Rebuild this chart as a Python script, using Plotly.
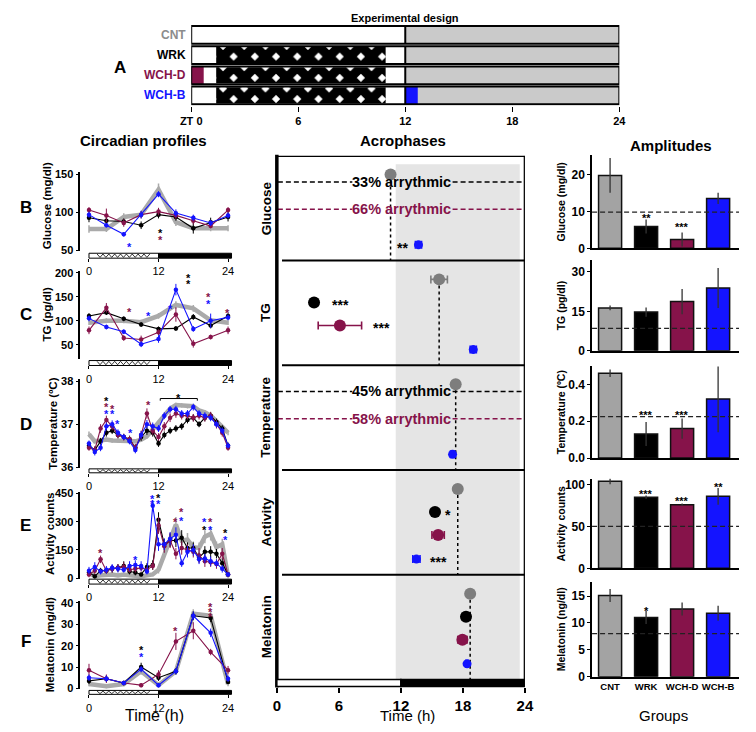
import plotly.graph_objects as go

# The page body has an 8px default margin: the figure is sized so it fits the 756x732 window,
# and all layout positions below are expressed in window pixels.
OFF = 8
FW, FH = 756 - 2 * OFF, 732 - 2 * OFF
def px(x): return (x - OFF) / FW
def py(y): return 1 - (y - OFF) / FH

FONT = "Arial, 'Liberation Sans', Helvetica, sans-serif"
GROUPS = ["CNT", "WRK", "WCH-D", "WCH-B"]
C_CNT_LINE = "#aaaaaa"
C_CNT_MARK = "#7d7d7d"
C_CNT_BAR = "#a3a3a3"
C_CNT_TXT = "#8c8c8c"
C_WRK = "#000000"
C_WCHD = "#86134a"
C_WCHB = "#1414ff"

# ---------------- data ----------------
# Experimental design (ZT hours)
work_start, work_end = 1.4, 10.9
wchd_food = [0.0, 0.7]
wchb_food = [12.0, 12.7]

t3 = [0, 3, 6, 9, 12, 15, 18, 21, 24]
t1 = list(range(25))

# Glucose (mg/dl)
glu_cnt = [78, 78, 94, 97, 130, 87, 79, 79, 79]
glu_wrk = [93, 89, 88, 83, 97, 94, 79, 87, 94]
glu_wchd = [103, 96, 86, 97, 101, 96, 89, 82, 103]
glu_wchb = [97, 83, 71, 97, 124, 99, 93, 86, 96]
glu_cnt_e = [5, 4, 5, 4, 8, 5, 4, 4, 4]
glu_wrk_e = [6, 8, 4, 5, 5, 5, 7, 6, 6]
glu_wchd_e = [4, 9, 5, 5, 5, 5, 5, 3, 4]
glu_wchb_e = [4, 3, 3, 5, 4, 5, 4, 4, 4]

# TG (pg/dl)
tg_cnt = [96, 100, 100, 97, 110, 133, 126, 101, 96]
tg_wrk = [110, 117, 104, 92, 83, 84, 108, 90, 110]
tg_wchd = [80, 127, 64, 61, 76, 113, 52, 66, 80]
tg_wchb = [105, 87, 77, 51, 62, 165, 83, 100, 107]
tg_cnt_e = [5, 5, 5, 5, 6, 8, 7, 5, 5]
tg_wrk_e = [6, 5, 5, 5, 5, 5, 6, 6, 6]
tg_wchd_e = [8, 10, 6, 8, 6, 15, 8, 5, 8]
tg_wchb_e = [6, 5, 5, 6, 8, 12, 6, 15, 6]

# Temperature (ºC), hourly
temp_cnt = [36.77, 36.6, 36.62, 36.64, 36.62, 36.62, 36.62, 36.62, 36.6, 36.64, 36.72, 36.88, 37.04,
            37.2, 37.36, 37.45, 37.44, 37.42, 37.42, 37.32, 37.28, 37.2, 37.08, 36.94, 36.8]
temp_wrk = [36.5, 36.4, 36.6, 36.8, 36.85, 36.75, 36.7, 36.65, 36.45, 36.7, 36.85, 36.8, 36.55,
            36.75, 36.85, 36.9, 36.95, 37.1, 37.15, 37.0, 37.15, 37.2, 37.05, 36.9, 36.5]
temp_wchd = [36.45, 36.4, 36.9, 37.1, 36.95, 36.75, 36.7, 36.65, 36.45, 36.75, 37.25, 36.85, 36.7,
             36.95, 37.15, 37.25, 37.2, 37.2, 37.15, 37.2, 37.15, 37.2, 37.0, 36.8, 36.45]
temp_wchb = [36.55, 36.35, 36.45, 36.95, 37.0, 36.8, 36.7, 36.6, 36.4, 36.75, 37.0, 36.95, 36.9,
             37.2, 37.35, 37.35, 37.25, 37.25, 37.4, 37.25, 37.2, 37.15, 37.0, 36.85, 36.5]
temp_cnt_e = [0.06, 0.05, 0.05, 0.05, 0.05, 0.05, 0.05, 0.05, 0.05, 0.05, 0.06, 0.06, 0.06,
              0.06, 0.05, 0.05, 0.05, 0.05, 0.05, 0.05, 0.05, 0.05, 0.06, 0.06, 0.06]
temp_wrk_e = [0.07, 0.08, 0.08, 0.09, 0.08, 0.07, 0.07, 0.08, 0.08, 0.09, 0.1, 0.09, 0.08,
              0.08, 0.08, 0.08, 0.08, 0.08, 0.08, 0.07, 0.08, 0.08, 0.08, 0.08, 0.07]
temp_wchd_e = [0.07, 0.08, 0.1, 0.1, 0.09, 0.08, 0.08, 0.08, 0.08, 0.1, 0.12, 0.1, 0.09,
               0.1, 0.1, 0.1, 0.09, 0.09, 0.09, 0.09, 0.09, 0.09, 0.1, 0.09, 0.07]
temp_wchb_e = [0.07, 0.08, 0.08, 0.09, 0.09, 0.08, 0.07, 0.07, 0.08, 0.09, 0.1, 0.09, 0.08,
               0.08, 0.08, 0.08, 0.08, 0.08, 0.08, 0.08, 0.08, 0.08, 0.08, 0.08, 0.07]

# Activity counts, hourly
act_cnt = [30, 10, 15, 20, 20, 15, 20, 15, 10, 10, 15, 20, 45, 130, 205, 285, 200, 205, 165, 160,
           220, 235, 165, 180, 10]
act_wrk = [30, 10, 40, 40, 50, 55, 65, 35, 30, 20, 60, 70, 310, 180, 200, 200, 215, 160, 160, 110,
           140, 140, 130, 80, 20]
act_wchd = [20, 40, 100, 40, 50, 55, 60, 45, 50, 55, 45, 65, 280, 170, 200, 130, 160, 150, 140, 120,
            90, 85, 75, 130, 20]
act_wchb = [40, 60, 35, 45, 55, 50, 45, 65, 70, 65, 35, 385, 180, 180, 210, 230, 80, 140, 150, 100,
            105, 90, 80, 50, 20]
act_cnt_e = [10, 8, 8, 8, 8, 8, 8, 8, 8, 8, 8, 10, 20, 30, 35, 40, 35, 35, 30, 30, 35, 35, 30, 30, 10]
act_wrk_e = [15, 10, 15, 15, 20, 20, 25, 15, 15, 10, 20, 25, 40, 30, 35, 35, 40, 30, 30, 25, 30, 30, 25, 25, 10]
act_wchd_e = [15, 20, 20, 15, 20, 20, 25, 15, 20, 20, 15, 20, 45, 35, 40, 30, 35, 30, 30, 40, 30, 25, 25, 30, 10]
act_wchb_e = [20, 25, 15, 20, 20, 20, 15, 25, 25, 25, 15, 30, 35, 30, 35, 40, 20, 30, 30, 25, 25, 25, 20, 20, 10]

# Melatonin, every 3 h
mel_cnt = [2, 1, 2, 8, 1.5, 8, 35, 34, 2]
mel_wrk = [3.5, 4.5, 2.5, 10, 5, 8, 34, 33, 3]
mel_wchd = [8.5, 4.5, 2.5, 1.5, 6.5, 22, 27, 17, 8.5]
mel_wchb = [5, 4.5, 2.5, 9, 1.5, 8, 34, 26, 4.5]
mel_cnt_e = [1, 1, 1, 1.5, 1, 1.5, 2, 2, 1]
mel_wrk_e = [1.5, 1.5, 1, 2, 1.5, 1.5, 2, 2, 1]
mel_wchd_e = [3, 2, 1, 1, 2, 4, 4, 1.5, 2]
mel_wchb_e = [1.5, 1.5, 1, 1.5, 1, 1.5, 2, 2, 1.5]

# Significance stars (x, y, group)
stars_glu = [(7.0, 58, "WCH-B"), (12.3, 76.5, "WRK"), (12.3, 67, "WCH-D")]
stars_tg = [(17.2, 196, "WRK"), (17.2, 183, "WRK"), (7.0, 125, "WCH-D"), (10.3, 116, "WCH-B"),
            (14.0, 131, "WCH-B"), (20.7, 155, "WCH-D"), (20.7, 141, "WCH-B"), (23.9, 123, "WCH-D")]
stars_temp = [(3.0, 37.62, "WRK"), (3.0, 37.47, "WCH-D"), (3.0, 37.31, "WCH-B"), (4.1, 37.43, "WCH-D"),
              (4.1, 37.3, "WCH-B"), (5.0, 37.07, "WCH-B"), (7.2, 36.86, "WCH-B"), (10.3, 37.52, "WCH-D"),
              (15.4, 37.69, "WRK")]
stars_act = [(2, 152, "WCH-D"), (8, 111, "WCH-B"), (11, 434, "WCH-B"), (11, 408, "WCH-B"),
             (12, 443, "WRK"), (12, 408, "WCH-B"), (15, 312, "WCH-D"), (16, 365, "WCH-D"),
             (16, 321, "WCH-B"), (20, 312, "WCH-B"), (20, 274, "WRK"), (21, 312, "WCH-D"),
             (21, 274, "WCH-B"), (23.5, 256, "WRK"), (23.5, 220, "WCH-B")]
stars_mel = [(9, 19.5, "WRK"), (9, 16.1, "WCH-B"), (15, 28.4, "WCH-D"), (21, 39.4, "WCH-D"),
             (21, 37.2, "WCH-D"), (21, 34.8, "WCH-D")]
temp_bracket = [12.3, 18.7, 37.6]

# Acrophases (h)
acro_vars = ["Glucose", "TG", "Temperature", "Activity", "Melatonin"]
acro_cnt = [11.0, 15.7, 17.3, 17.5, 18.7]
acro_cnt_e = [0.3, 0.8, 0.1, 0.1, 0.1]
acro_wrk = [None, 3.6, None, 15.3, 18.3]
acro_wrk_e = [0, 0.15, 0, 0.3, 0.35]
acro_wchd = [None, 6.1, None, 15.6, 17.95]
acro_wchd_e = [0, 2.1, 0, 0.6, 0.45]
acro_wchb = [13.7, 19.0, 17.0, 13.5, 18.4]
acro_wchb_e = [0.3, 0.3, 0.2, 0.35, 0.1]
arr_wrk = ["33% arrythmic", None, "45% arrythmic", None, None]
arr_wchd = ["66% arrythmic", None, "58% arrythmic", None, None]
acro_stars = [(12.15, 0, "WCH-B", "**"), (6.15, 1, "WRK", "***"), (10.1, 1, "WCH-D", "***"),
              (16.6, 3, "WRK", "*"), (15.6, 3, "WCH-B", "***")]

# Amplitudes
amp_glu = [19.7, 5.9, 2.4, 13.5]
amp_glu_e = [4.7, 1.9, 1.9, 1.5]
amp_tg = [16.3, 14.7, 18.7, 23.9]
amp_tg_e = [0.9, 1.8, 4.8, 7.6]
amp_temp = [0.46, 0.13, 0.16, 0.32]
amp_temp_e = [0.02, 0.065, 0.055, 0.18]
amp_act = [104, 85, 76, 86]
amp_act_e = [3.5, 2, 1.5, 10]
amp_mel = [15.1, 11.0, 12.6, 11.8]
amp_mel_e = [1.2, 1.2, 1.2, 1.4]
amp_thr = [9.8, 8.5, 0.225, 50, 8.0]
amp_stars = [[(1, 8.9, "**"), (2, 6.7, "***")], [], [(1, 0.25, "***"), (2, 0.25, "***")],
             [(1, 91.8, "***"), (2, 83.5, "***"), (3, 101, "**")], [(1, 12.8, "*")]]

# ---------------- figure ----------------
GC = {"CNT": C_CNT_MARK, "WRK": C_WRK, "WCH-D": C_WCHD, "WCH-B": C_WCHB}
fig = go.Figure()
ann, shapes = [], []
L = dict(width=FW, height=FH, margin=dict(l=0, r=0, t=0, b=0, pad=0), paper_bgcolor="white",
         plot_bgcolor="rgba(0,0,0,0)", showlegend=False, barmode="overlay", hovermode=False,
         font=dict(family=FONT, color="black", size=11))


def text(x, y, s, size=11, color="black", bold=True, angle=0, xanchor="center", yanchor="middle",
         xref="paper", yref="paper", yshift=0):
    ann.append(dict(x=x, y=y, xref=xref, yref=yref, text=("<b>%s</b>" % s) if bold else s,
                    showarrow=False, textangle=angle, xanchor=xanchor, yanchor=yanchor, yshift=yshift,
                    font=dict(family=FONT, size=size, color=color)))


# ---- A: experimental design ----
row_top, row_bot = 21, 103
row_h = (row_bot - row_top) / 4
L["xaxis"] = dict(domain=[px(185), px(625)], range=[0, 24], anchor="y", showgrid=False, zeroline=False,
                  showline=False, tickvals=[0, 6, 12, 18, 24], ticktext=["ZT 0", "6", "12", "18", "24"],
                  ticks="outside", ticklen=5, tickwidth=1.2, tickcolor="black",
                  tickfont=dict(size=11, weight="bold"))
L["yaxis"] = dict(domain=[py(row_bot), py(row_top)], range=[3.5, -0.5], visible=False, anchor="x")
for i, g in enumerate(GROUPS):
    shapes.append(dict(type="rect", xref="x", yref="y", x0=0, x1=12, y0=i - 0.44, y1=i + 0.44,
                       fillcolor="white", line=dict(width=0), layer="below"))
    shapes.append(dict(type="rect", xref="x", yref="y", x0=12, x1=24, y0=i - 0.44, y1=i + 0.44,
                       fillcolor="#cacaca", line=dict(width=0), layer="below"))
    if i > 0:
        fig.add_trace(go.Bar(x=[work_end - work_start], base=[work_start], y=[i], orientation="h",
                             width=0.8, xaxis="x", yaxis="y",
                             marker=dict(color="black", line=dict(width=0),
                                         pattern=dict(shape="x", fgcolor="black", bgcolor="white",
                                                      fgopacity=1, size=15, solidity=0.85))))
    shapes.append(dict(type="rect", xref="x", yref="y", x0=0, x1=24, y0=i - 0.44, y1=i + 0.44,
                       line=dict(color="black", width=2)))
    shapes.append(dict(type="line", xref="x", yref="y", x0=12, x1=12, y0=i - 0.44, y1=i + 0.44,
                       line=dict(color="black", width=2)))
    text(px(182), py(row_top + row_h * (i + 0.5)), g, size=12,
         color={"CNT": C_CNT_TXT, "WRK": C_WRK, "WCH-D": C_WCHD, "WCH-B": C_WCHB}[g], xanchor="right")
fig.add_trace(go.Bar(x=[wchd_food[1] - wchd_food[0]], base=[wchd_food[0]], y=[2], orientation="h",
                     width=0.86, xaxis="x", yaxis="y", marker=dict(color=C_WCHD, line=dict(width=0))))
fig.add_trace(go.Bar(x=[wchb_food[1] - wchb_food[0]], base=[wchb_food[0]], y=[3], orientation="h",
                     width=0.86, xaxis="x", yaxis="y", marker=dict(color=C_WCHB, line=dict(width=0))))
text(px(112), py(64), "A", size=17)
text(px(405), py(14), "Experimental design", size=11)

# Section titles
text(px(136), py(139), "Circadian profiles", size=15)
text(px(403), py(139), "Acrophases", size=15)
text(px(678), py(144), "Amplitudes", size=15)

# ---- B-F circadian profiles ----
panels = [
    dict(letter="B", title="Glucose (mg/dl)", t=t3, s=[glu_cnt, glu_wrk, glu_wchd, glu_wchb],
         e=[glu_cnt_e, glu_wrk_e, glu_wchd_e, glu_wchb_e], top=171, bot=251, rng=[48.7, 152.6],
         tick=[50, 100, 150], ld=(253, 258), ly=207, ty=205, tx=37, stars=stars_glu),
    dict(letter="C", title="TG (pg/dl)", t=t3, s=[tg_cnt, tg_wrk, tg_wchd, tg_wchb],
         e=[tg_cnt_e, tg_wrk_e, tg_wchd_e, tg_wchb_e], top=271, bot=360, rng=[21, 204],
         tick=[50, 100, 150, 200], ld=(362, 367), ly=315, ty=315, tx=37, stars=stars_tg),
    dict(letter="D", title="Temperature (ºC)", t=t1, s=[temp_cnt, temp_wrk, temp_wchd, temp_wchb],
         e=[temp_cnt_e, temp_wrk_e, temp_wchd_e, temp_wchb_e], top=381, bot=471, rng=[35.98, 38.05],
         tick=[36, 37, 38], ld=(472, 476), ly=427, ty=426, tx=42, stars=stars_temp),
    dict(letter="E", title="Activity counts", t=t1, s=[act_cnt, act_wrk, act_wchd, act_wchb],
         e=[act_cnt_e, act_wrk_e, act_wchd_e, act_wchb_e], top=495, bot=584, rng=[-5, 460],
         tick=[0, 150, 300, 450], ld=(584, 589), ly=530, ty=538, tx=40, stars=stars_act),
    dict(letter="F", title="Melatonin (mg/dl)", t=t3, s=[mel_cnt, mel_wrk, mel_wchd, mel_wchb],
         e=[mel_cnt_e, mel_wrk_e, mel_wchd_e, mel_wchb_e], top=606, bot=696, rng=[-0.5, 41],
         tick=[0, 10, 20, 30, 40], ld=(697, 701), ly=647, ty=651, tx=40, stars=stars_mel),
]


def zigzag(x0, x1, ytop, ybot, n):
    pts = []
    for j in range(n + 1):
        xx = x0 + (x1 - x0) * j / n
        yy = ytop if j % 2 == 0 else ybot
        pts.append("%.4f,%.5f" % (xx, yy))
    return "M " + " L ".join(pts)


for k, p in enumerate(panels):
    ai = k + 2
    xa, ya = "x%d" % ai, "y%d" % ai
    L["xaxis%d" % ai] = dict(domain=[px(71), px(230)], range=[-1.5, 25.2], anchor="free",
                             position=py(p["ld"][1]), showgrid=False, zeroline=False, showline=False,
                             tickvals=[0, 12, 24], ticks="outside", ticklen=3, tickwidth=1.2,
                             tickcolor="black", tickfont=dict(size=11))
    L["yaxis%d" % ai] = dict(domain=[py(p["bot"]), py(p["top"])], range=p["rng"], anchor=xa,
                             showgrid=False, zeroline=False, showline=True, linewidth=1.5,
                             linecolor="black", ticks="outside", ticklen=3, tickwidth=1.2,
                             tickcolor="black", tickvals=p["tick"], tickfont=dict(size=11, weight="bold"))
    # light/dark bar
    y0, y1 = py(p["ld"][1]), py(p["ld"][0])
    shapes.append(dict(type="rect", xref=xa, yref="paper", x0=0, x1=12, y0=y0, y1=y1,
                       fillcolor="white", line=dict(color="black", width=1)))
    shapes.append(dict(type="rect", xref=xa, yref="paper", x0=12, x1=24.6, y0=y0, y1=y1,
                       fillcolor="black", line=dict(color="black", width=1)))
    shapes.append(dict(type="path", xref=xa, yref="paper",
                       path=zigzag(work_start, work_end - 0.4, y1 - 0.8 / FH, y0 + 0.8 / FH, 18),
                       line=dict(color="black", width=0.8)))
    # lines
    for gi, g in enumerate(GROUPS):
        if g == "CNT":
            fig.add_trace(go.Scatter(x=p["t"], y=p["s"][gi], mode="lines", xaxis=xa, yaxis=ya,
                                     line=dict(color=C_CNT_LINE, width=4.5),
                                     error_y=dict(array=p["e"][gi], color=C_CNT_LINE, thickness=1.5,
                                                  width=0)))
        else:
            fig.add_trace(go.Scatter(x=p["t"], y=p["s"][gi], mode="lines+markers", xaxis=xa, yaxis=ya,
                                     line=dict(color=GC[g], width=1.1),
                                     marker=dict(color=GC[g], size=4.5),
                                     error_y=dict(array=p["e"][gi], color=GC[g], thickness=1, width=0)))
    for (sx, sy, sg) in p["stars"]:
        text(sx, sy, "*", size=11, color=GC[sg], xref=xa, yref=ya, yshift=-3)
    text(px(15), py(p["ly"]), p["letter"], size=17)
    text(px(p["tx"]), py(p["ty"]), p["title"], size=11.5, angle=-90)

# bracket in temperature panel
shapes.append(dict(type="path", xref="x4", yref="y4",
                   path="M %f,%f L %f,%f L %f,%f L %f,%f" % (
                       temp_bracket[0], temp_bracket[2] - 0.05, temp_bracket[0], temp_bracket[2],
                       temp_bracket[1], temp_bracket[2], temp_bracket[1], temp_bracket[2] - 0.05),
                   line=dict(color="black", width=1)))
text(px(147), py(722), "Time (h)", size=16, bold=False)

# ---- Acrophases ----
L["xaxis7"] = dict(domain=[px(273), px(528)], range=[0, 24], anchor="free", position=py(694),
                   showgrid=False, zeroline=False, showline=False, tickvals=[0, 6, 12, 18, 24],
                   ticks="outside", ticklen=5, tickwidth=2, tickcolor="black",
                   tickfont=dict(size=15, weight="bold"))
L["yaxis7"] = dict(domain=[py(686), py(154)], range=[5, 0], visible=False, anchor="x7")
offs = [0.18, 0.40, 0.62, 0.85]
shapes.append(dict(type="rect", xref="x7", yref="y7", x0=11.5, x1=23.5, y0=0.08, y1=5,
                   fillcolor="#e5e5e5", line=dict(width=0), layer="below"))
for k in range(5):
    shapes.append(dict(type="line", xref="x7", yref="y7", x0=acro_cnt[k], x1=acro_cnt[k],
                       y0=k + offs[0], y1=k + 1, line=dict(color="black", width=1.5, dash="dot"),
                       layer="below"))
    text(px(262), k + 0.5, acro_vars[k], size=13.5, angle=-90, yref="y7")
    for lbl, yo, col in ((arr_wrk[k], 0.25, C_WRK), (arr_wchd[k], 0.51, C_WCHD)):
        if lbl:
            for xs in ((0.1, 7.3), (17.0, 24)):
                shapes.append(dict(type="line", xref="x7", yref="y7", x0=xs[0], x1=xs[1], y0=k + yo,
                                   y1=k + yo, line=dict(color=col, width=1.4, dash="5px,3px")))
            text(12.1, k + yo, lbl, size=14.5, color=col, xref="x7", yref="y7")
for k in range(1, 5):
    shapes.append(dict(type="line", xref="x7", yref="y7", x0=0.5, x1=24, y0=k, y1=k,
                       line=dict(color="black", width=2)))
shapes.append(dict(type="line", xref="x7", yref="y7", x0=0, x1=24, y0=0, y1=0,
                   line=dict(color="black", width=2.5)))
shapes.append(dict(type="line", xref="x7", yref="y7", x0=24, x1=24, y0=0, y1=5,
                   line=dict(color="black", width=2.5)))
shapes.append(dict(type="line", xref="paper", yref="paper", x0=px(273), x1=px(273), y0=py(694),
                   y1=py(153), line=dict(color="black", width=3.5)))
shapes.append(dict(type="rect", xref="x7", yref="paper", x0=0, x1=12, y0=py(693), y1=py(686),
                   fillcolor="white", line=dict(color="black", width=1.5)))
shapes.append(dict(type="rect", xref="x7", yref="paper", x0=12, x1=24, y0=py(693), y1=py(686),
                   fillcolor="black", line=dict(color="black", width=1.5)))
acro_sets = [(acro_cnt, acro_cnt_e, "CNT", 12), (acro_wrk, acro_wrk_e, "WRK", 12),
             (acro_wchd, acro_wchd_e, "WCH-D", 12), (acro_wchb, acro_wchb_e, "WCH-B", 9)]
for gi, (vals, errs, g, ms) in enumerate(acro_sets):
    ys = [k + offs[gi] for k in range(5)]
    fig.add_trace(go.Scatter(x=vals, y=ys, mode="markers", xaxis="x7", yaxis="y7",
                             marker=dict(color=GC[g], size=ms),
                             error_x=dict(array=errs, color=GC[g], thickness=1.6, width=4)))
for (sx, sk, sg, st) in acro_stars:
    text(sx, sk + offs[GROUPS.index(sg)], st, size=14, xref="x7", yref="y7", yshift=-3)
text(px(407), py(722), "Time (h)", size=15, bold=False)

# ---- Amplitudes ----
amp_specs = [
    ("Glucose (mg/dl)", amp_glu, amp_glu_e, 153, 248, [0, 25.3], [0, 10, 20], ["0", "10", "20"]),
    ("TG (pg/dl)", amp_tg, amp_tg_e, 260, 352, [0, 34.5], [0, 15, 30], ["0", "15", "30"]),
    ("Temperature (ºC)", amp_temp, amp_temp_e, 368, 461, [0, 0.497], [0, 0.2, 0.4], ["0.0", "0.2", "0.4"]),
    ("Activity counts", amp_act, amp_act_e, 482, 573, [0, 107], [0, 50, 100], ["0", "50", "100"]),
    ("Melatonin (ng/dl)", amp_mel, amp_mel_e, 587, 683, [0, 17.6], [0, 5, 10, 15], ["0", "5", "10", "15"]),
]
bar_cols = [C_CNT_BAR, C_WRK, C_WCHD, C_WCHB]
for k, (ttl, vals, errs, top, bot, rng, tv, tt) in enumerate(amp_specs):
    ai = k + 8
    xa, ya = "x%d" % ai, "y%d" % ai
    last = k == 4
    L["xaxis%d" % ai] = dict(domain=[px(597), px(748)], range=[-0.5, 3.58], anchor=ya, showgrid=False,
                             zeroline=False, showline=True, linewidth=1.5, linecolor="black",
                             tickvals=[0, 1, 2, 3], ticktext=GROUPS, ticks="",
                             showticklabels=last, tickfont=dict(size=9.5, weight="bold"))
    L["yaxis%d" % ai] = dict(domain=[py(bot), py(top)], range=rng, anchor=xa, showgrid=False,
                             zeroline=False, showline=True, linewidth=1.5, linecolor="black",
                             ticks="outside", ticklen=3, tickwidth=1.2, tickcolor="black",
                             tickvals=tv, ticktext=tt, tickfont=dict(size=12, weight="bold"))
    fig.add_trace(go.Bar(x=[0, 1, 2, 3], y=vals, width=0.64, xaxis=xa, yaxis=ya,
                         marker=dict(color=bar_cols, line=dict(color="#111111", width=1.5)),
                         error_y=dict(array=errs, color="#333333", thickness=1.3, width=0)))
    shapes.append(dict(type="line", xref=xa + " domain", yref=ya, x0=0, x1=1, y0=amp_thr[k],
                       y1=amp_thr[k], line=dict(color="#222222", width=1.2, dash="5px,3px")))
    for (sx, sy, st) in amp_stars[k]:
        text(sx, sy, st, size=11, xref=xa, yref=ya, yshift=-3)
    text(px(565), py((top + bot) / 2), ttl, size=10.5, angle=-90)
text(px(670), py(722), "Groups", size=15, bold=False)

L["annotations"] = ann
L["shapes"] = shapes
fig.update_layout(**L)
fig.write_html("out.html")
